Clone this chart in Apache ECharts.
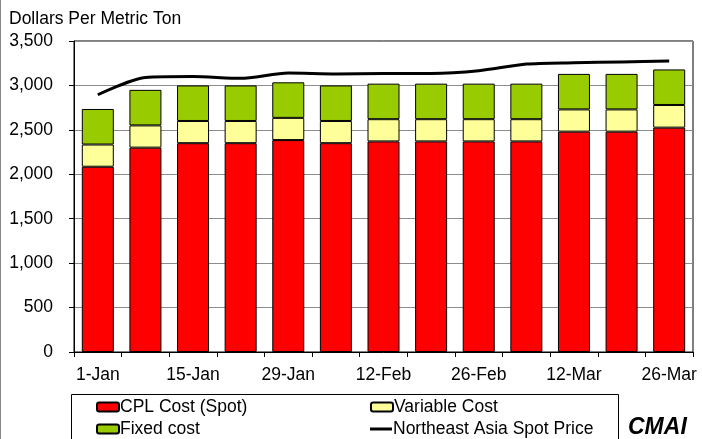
<!DOCTYPE html>
<html><head><meta charset="utf-8">
<script src="https://cdn.jsdelivr.net/npm/echarts@6/dist/echarts.min.js"></script>
<style>html,body{margin:0;padding:0;background:#fff}#c{width:702px;height:439px}</style>
</head><body><div id="c"></div>
<script>
var categories = ['1-Jan','8-Jan','15-Jan','22-Jan','29-Jan','5-Feb','12-Feb','19-Feb','26-Feb','5-Mar','12-Mar','19-Mar','26-Mar'];
var cplCost = [2085,2300,2350,2350,2385,2350,2370,2370,2370,2370,2480,2480,2525];
var variableCost = [250,250,250,250,250,250,250,250,250,250,250,250,255];
var fixedCost = [400,400,400,400,400,400,400,400,400,400,400,400,400];
var spotPrice = [2895,3090,3100,3080,3140,3130,3135,3135,3165,3240,3255,3265,3275];
var yTicks = [0,500,1000,1500,2000,2500,3000,3500];

var font = 'Liberation Sans, Arial, sans-serif';
var fs = 17.5;
var chart = echarts.init(document.getElementById('c'), null, {renderer:'canvas'});
function legendItem(name, left, top, extra) {
  var l = {
    data:[name], left:left, top:top, padding:0, orient:'horizontal',
    itemWidth:22, itemHeight:9, selectedMode:false,
    textStyle:{fontFamily:font, fontSize:fs, color:'#000', padding:[0,0,0,-4]}
  };
  if (extra) for (var k in extra) l[k] = extra[k];
  return l;
}
chart.setOption({
  animation:false,
  title:{text:'Dollars Per Metric Ton', left:9, top:10, padding:0,
    textStyle:{fontFamily:font, fontSize:fs, fontWeight:'normal', color:'#000'}},
  grid:{left:74, right:9, top:41, bottom:87, show:true, borderColor:'#000', borderWidth:1, containLabel:false},
  legend:[
    legendItem('CPL Cost (Spot)', 96, 398),
    legendItem('Variable Cost', 370, 398),
    legendItem('Fixed cost', 96, 420),
    legendItem('Northeast Asia Spot Price', 370, 420, {itemHeight:3, icon:'rect'})
  ],
  xAxis:{type:'category', data:categories, boundaryGap:true,
    axisLine:{lineStyle:{color:'#000', width:1}},
    axisTick:{show:true, length:5, interval:0, lineStyle:{color:'#000'}},
    axisLabel:{interval:1, margin:14, fontFamily:font, fontSize:fs, color:'#000'}},
  yAxis:{type:'value', min:yTicks[0], max:yTicks[yTicks.length-1], interval:500,
    axisLine:{show:true, lineStyle:{color:'#000', width:1}},
    axisTick:{show:true, length:5, lineStyle:{color:'#000'}},
    axisLabel:{margin:21, fontFamily:font, fontSize:fs, color:'#000',
      formatter:function(v){return v.toLocaleString('en-US');}},
    splitLine:{show:true, lineStyle:{color:'#8c8c8c', width:1}}},
  series:[
    {name:'CPL Cost (Spot)', type:'bar', stack:'c', data:cplCost, barWidth:32,
      itemStyle:{color:'#FF0000', borderColor:'#000', borderWidth:1}},
    {name:'Variable Cost', type:'bar', stack:'c', data:variableCost, barWidth:32,
      itemStyle:{color:'#FFFF99', borderColor:'#000', borderWidth:1}},
    {name:'Fixed cost', type:'bar', stack:'c', data:fixedCost, barWidth:32,
      itemStyle:{color:'#99CC00', borderColor:'#000', borderWidth:1}},
    {name:'Northeast Asia Spot Price', type:'line', data:spotPrice, smooth:0.25,
      showSymbol:false, symbol:'none', lineStyle:{color:'#000', width:3}, itemStyle:{color:'#000'}, z:5}
  ],
  graphic:[
    {type:'rect', shape:{x:71.5, y:394.5, width:547, height:60},
      style:{fill:'none', stroke:'#000', lineWidth:1}, silent:true, z:-1},
    {type:'line', shape:{x1:0.5, y1:0, x2:0.5, y2:439}, style:{stroke:'#888', lineWidth:1}},
    {type:'text', x:628, y:416, style:{text:'CMAI', font:'italic bold 23px ' + font, fill:'#000'}}
  ]
});
</script></body></html>
